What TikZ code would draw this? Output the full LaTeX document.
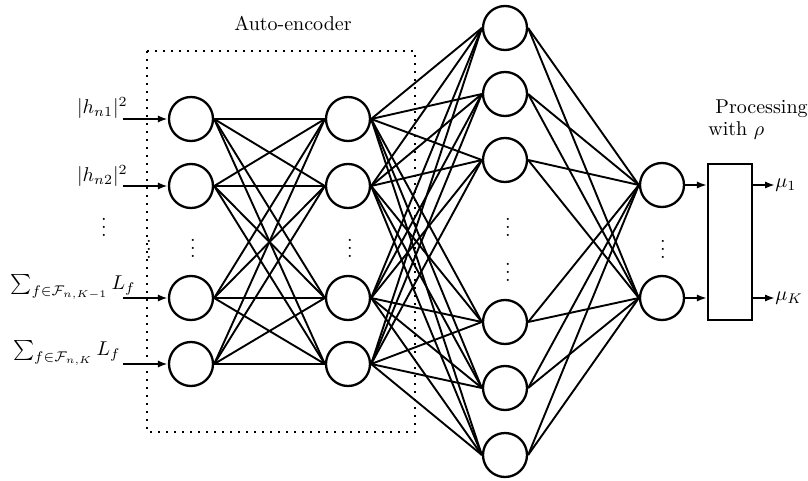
\documentclass[tikz,border=0pt]{standalone}
\usetikzlibrary{arrows.meta}
\begin{document}
\begin{tikzpicture}[x=0.5pt,y=-0.5pt,
  neuron/.style={circle,draw,line width=1.15pt,minimum size=22pt,inner sep=0pt},
  conn/.style={line width=0.95pt},
  arr/.style={line width=1pt,-{Latex[length=5pt,width=3.6pt]}},
  dotbox/.style={line width=0.8pt,dash pattern=on 0.8pt off 3.2pt},
  lab/.style={inner sep=0pt}]
\useasboundingbox (0,0) rectangle (808,481);
% auto-encoder frame
\draw[dotbox] (147,51) rectangle (415,432);
\node[lab] (ae) at (293,23) {Auto-encoder};
% layer 1
\node[neuron] (a1) at (191,119) {};
\node[neuron] (a2) at (191,186) {};
\node[neuron] (a3) at (191,298) {};
\node[neuron] (a4) at (191,364) {};
% layer 2
\node[neuron] (b1) at (348,119) {};
\node[neuron] (b2) at (348,186) {};
\node[neuron] (b3) at (348,298) {};
\node[neuron] (b4) at (348,364) {};
% layer 3
\node[neuron] (c1) at (505,28) {};
\node[neuron] (c2) at (505,94) {};
\node[neuron] (c3) at (505,160) {};
\node[neuron] (c4) at (505,322) {};
\node[neuron] (c5) at (505,388) {};
\node[neuron] (c6) at (505,455) {};
% layer 4
\node[neuron] (d1) at (662,185) {};
\node[neuron] (d2) at (662,298) {};
% processing box
\node[draw,line width=1.1pt,minimum width=22pt,minimum height=78pt,inner sep=0pt] (p) at (730,242) {};
% connections
\foreach \i in {1,...,4}{\foreach \j in {1,...,4}{\draw[conn] (a\i.east) -- (b\j.west);}}
\foreach \i in {1,...,4}{\foreach \j in {1,...,6}{\draw[conn] (b\i.east) -- (c\j.west);}}
\foreach \i in {1,...,6}{\foreach \j in {1,2}{\draw[conn] (c\i.east) -- (d\j.west);}}
% vertical dots
\node[lab] (v0) at (104,221) {$\vdots$};
\node[lab] (v1) at (193,242) {$\vdots$};
\node[lab] (v1b) at (149,243) {$\vdots$};
\node[lab] (v2) at (350,242) {$\vdots$};
\node[lab] (v3a) at (508,221) {$\vdots$};
\node[lab] (v3b) at (508,266) {$\vdots$};
\node[lab] (v4) at (663,243) {$\vdots$};
% inputs
\coordinate (s1) at (123,119);
\coordinate (s2) at (123,186);
\coordinate (s3) at (123,298);
\coordinate (s4) at (123,364);
\draw[arr] (s1) -- (a1.west);
\draw[arr] (s2) -- (a2.west);
\draw[arr] (s3) -- (a3.west);
\draw[arr] (s4) -- (a4.west);
\node[lab,anchor=east] (l1) at (128,108) {$|h_{n1}|^2$};
\node[lab,anchor=east] (l2) at (128,176) {$|h_{n2}|^2$};
\node[lab,anchor=east] (l3) at (136,287) {$\sum_{f\in\mathcal{F}_{n,K-1}}L_f$};
\node[lab,anchor=east] (l4) at (121,353) {$\sum_{f\in\mathcal{F}_{n,K}}L_f$};
% to processing
\draw[arr] (d1.east) -- (p.west |- d1);
\draw[arr] (d2.east) -- (p.west |- d2);
\coordinate (o1) at (775,185);
\coordinate (o2) at (775,298);
\draw[arr] (p.east |- d1) -- (o1);
\draw[arr] (p.east |- d2) -- (o2);
\node[lab,anchor=west] (m1) at (o1) {$\mu_1$};
\node[lab,anchor=west] (m2) at (o2) {$\mu_K$};
\node[lab,anchor=west] (t1) at (715,109) {Processing};
\node[lab,anchor=west] (t2) at (708,131) {with $\rho$};
\end{tikzpicture}
\end{document}
